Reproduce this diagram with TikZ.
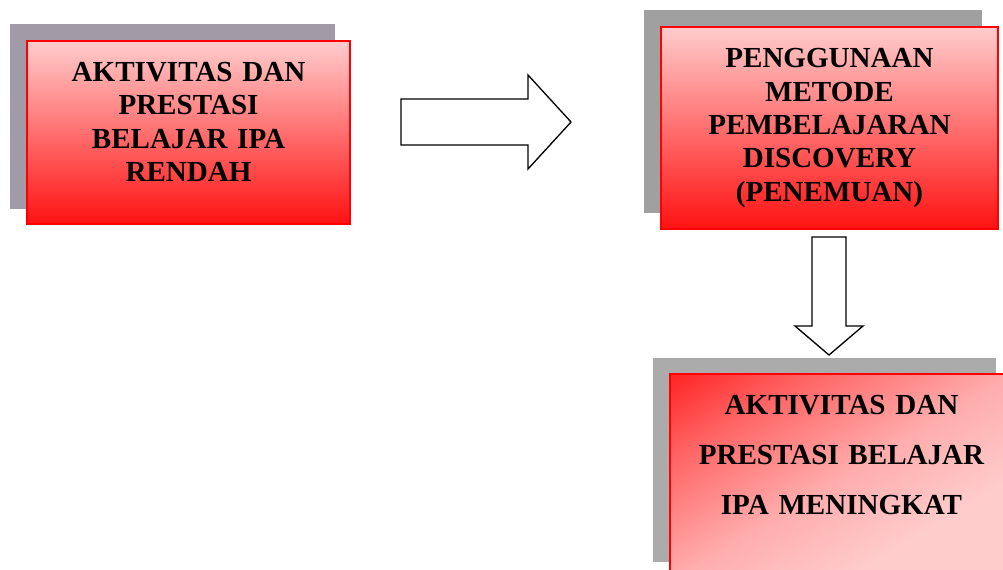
\documentclass[tikz,border=0pt]{standalone}
\usepackage{fontspec}
\setmainfont{Liberation Serif}
\usepackage{tikz}

\definecolor{boxpink}{RGB}{255,204,204}
\definecolor{boxsoft}{RGB}{255,172,172}
\definecolor{boxmid}{RGB}{255,100,100}
\definecolor{boxred}{RGB}{255,18,18}
\definecolor{shadowlilac}{RGB}{160,155,167}
\definecolor{shadowgray}{RGB}{160,160,160}
\definecolor{shadowlight}{RGB}{171,171,171}

% diagonal fill of the last box: red corner, pink most of the way
\pgfdeclareverticalshading{meningkatshade}{100bp}{color(0bp)=(boxpink); color(32bp)=(boxpink); color(50bp)=(boxsoft); color(70bp)=(boxmid); color(88bp)=(boxred); color(100bp)=(boxred)}

\tikzset{
  redbox/.style={draw=red, line width=1.5pt, align=center, inner sep=0pt,
    font=\fontsize{21.8}{25}\selectfont\bfseries},
  fatarrow/.style={draw=black, line width=1pt, fill=white, line join=miter},
}

\begin{document}
\begin{tikzpicture}[x=0.75pt,y=0.75pt,yscale=-1,xscale=1]

        \useasboundingbox (0,0) rectangle (1003,569);
        \clip (0,0) rectangle (1003,569);

        %Shape: Rectangle [shadow of first box]
        \fill [shadowlilac] (10,24) rectangle (335,209);
        %Shape: Rectangle [shadow of second box]
        \fill [shadowgray] (644,10) rectangle (982,213);
        %Shape: Rectangle [shadow of third box]
        \fill [shadowlight] (653,358) rectangle (996,562);

        % Text Node
        \node [redbox, top color=boxpink, bottom color=boxred, minimum width=242.25pt, minimum height=137.25pt, text width=230pt] (rendah) at (188.5,132.5) {AKTIVITAS DAN\\PRESTASI\\BELAJAR IPA\\RENDAH\rule[-16pt]{0pt}{0pt}};
        % Text Node
        \node [redbox, top color=boxpink, bottom color=boxred, minimum width=252.75pt, minimum height=151.5pt, text width=240pt] (discovery) at (829.5,128) {PENGGUNAAN\\METODE\\PEMBELAJARAN\\DISCOVERY\\(PENEMUAN)};
        % Text Node
        \node [redbox, shading=meningkatshade, shading angle=31, minimum width=257.25pt, minimum height=153pt, text width=245pt, font=\fontsize{21.8}{37.5}\selectfont\bfseries] (meningkat) at (841.5,476) {AKTIVITAS DAN\\PRESTASI BELAJAR\\IPA MENINGKAT\rule[-31.5pt]{0pt}{0pt}};

        %Shape: Right Arrow
        \draw [fatarrow] (401,99) -- (528,99) -- (528,75) -- (571,122) -- (528,169) -- (528,145) -- (401,145) -- cycle;
        %Shape: Down Arrow
        \draw [fatarrow] (812,237) -- (846,237) -- (846,326) -- (863,326) -- (829,355) -- (795,326) -- (812,326) -- cycle;

\end{tikzpicture}
\end{document}
